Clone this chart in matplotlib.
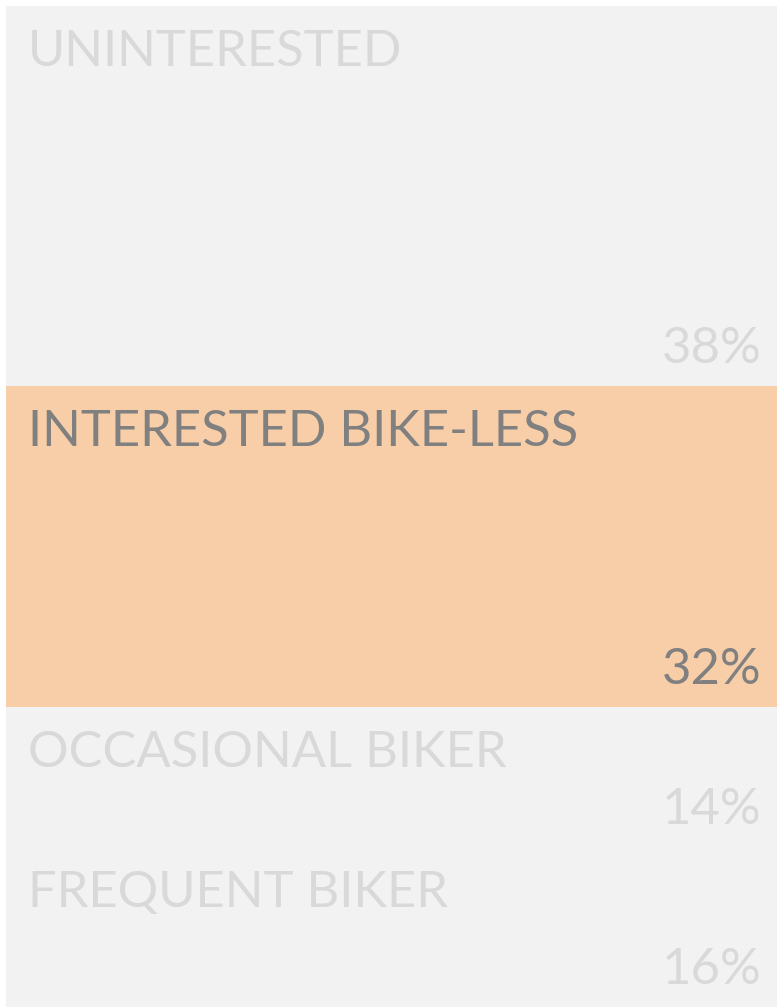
import matplotlib.pyplot as plt

# groupes de cyclistes et leur part (%)
groups = ["UNINTERESTED", "INTERESTED BIKE-LESS", "OCCASIONAL BIKER", "FREQUENT BIKER"]
shares = [38, 32, 14, 16]
highlight = "INTERESTED BIKE-LESS"

BG = "#f2f2f2"
HL = "#f8cea8"
TXT_OFF = "#d9d9d9"
TXT_ON = "#808080"

plt.rcParams['font.family'] = ['Lato', 'DejaVu Sans']

fig = plt.figure(figsize=(7.77, 10.07), dpi=100)
ax = fig.add_axes([6 / 777, 0, 771 / 777, 1001 / 1007])
total = sum(shares)
ax.set_xlim(0, 1)
ax.set_ylim(total, 0)  # le premier groupe en haut
ax.axis('off')

top = 0
for name, val in zip(groups, shares):
    on = name == highlight
    ax.bar(0.5, val, bottom=top, width=1, color=HL if on else BG, linewidth=0)
    col = TXT_ON if on else TXT_OFF
    # nom du groupe en haut a gauche, part en bas a droite
    ax.text(0.028, top + 2.3, name, color=col, fontsize=36.5, va='top', ha='left')
    ax.text(0.98, top + val - 1.4, f"{val}%", color=col, fontsize=36.5, va='bottom', ha='right')
    top += val

fig.savefig("out.png", dpi=100, facecolor="white")
